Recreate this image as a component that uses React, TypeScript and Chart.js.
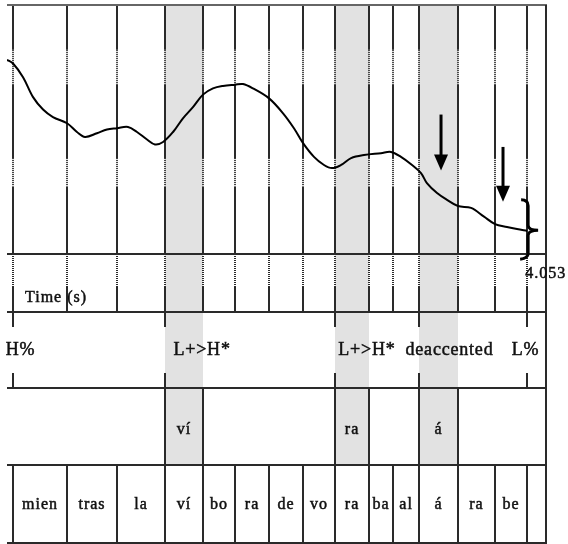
import { useEffect, useRef } from 'react';
import { Chart, registerables } from 'chart.js';

Chart.register(...registerables);

// Pitch track (time in seconds, F0 in Hz)
const pitchTimes = [
  0.0, 0.047, 0.125, 0.203, 0.281, 0.358, 0.468, 0.545, 0.608, 0.701, 0.779, 0.857, 0.943,
  1.013, 1.091, 1.153, 1.216, 1.294, 1.371, 1.449, 1.527, 1.605, 1.683, 1.777, 1.839, 1.917,
  2.042, 2.151, 2.236, 2.307, 2.392, 2.47, 2.532, 2.603, 2.681, 2.782, 2.914, 2.992, 3.07,
  3.156, 3.226, 3.272, 3.351, 3.429, 3.514, 3.616, 3.717, 3.803, 3.896, 3.974, 4.053,
];
const pitchHz = [
  236, 233, 222, 206, 196, 190, 185, 178, 174, 177, 180, 181, 182,
  178, 172, 168, 170, 178, 189, 198, 208, 213, 215, 216, 216.5, 213,
  205, 193, 181, 169, 158, 151.5, 149, 151.5, 157, 159.5, 161, 162, 158,
  151.5, 145, 137, 129, 123.5, 118.5, 117, 110, 104, 101.7, 100, 98.5,
];

// Interval boundaries shared by the word tier
const boundaryTimes = [
  0.047, 0.468, 0.857, 1.231, 1.527, 1.777, 2.042, 2.307, 2.556, 2.821, 3.008, 3.211, 3.514,
  3.803, 4.053,
];
const wordLabels = ['mien', 'tras', 'la', 'ví', 'bo', 'ra', 'de', 'vo', 'ra', 'ba', 'al', 'á', 'ra', 'be'];

// Stressed syllables (shaded)
const stressStarts = [1.231, 2.556, 3.211];
const stressEnds = [1.527, 2.821, 3.514];
const stressLabels = ['ví', 'ra', 'á'];

// Tone tier (point tier)
const tonePointTimes = [0.047, 1.231, 2.556, 3.211, 4.053];
const toneLabels = ['H%', 'L+>H*', 'L+>H*', 'deaccented', 'L%'];
const toneLabelTimes = [0.105, 1.52, 2.805, 3.448, 4.04];

const timeMin = 0;
const timeMax = 4.2;
const hzMin = 80;
const hzMax = 280;
const endTimeLabel = '4.053';
const timeAxisTitle = 'Time (s)';

// Downward arrows and end brace annotations
const arrowTimes = [3.382, 3.865];
const arrowTopHz = [192, 166];
const arrowTipHz = [147, 122];
const braceTime = 4.053;
const braceTopHz = 123.5;
const braceMidHz = 99;
const braceBottomHz = 76.5;

const LINE = '#2a2a2a';
const TEXT = '#111';
const SERIF = '"Liberation Serif", "Times New Roman", serif';

function rowsOf(a: { top: number; bottom: number }) {
  const time = a.bottom + 58;
  const tone = time + 76;
  const syll = tone + 77;
  const word = syll + 78;
  return { time, tone, syll, word };
}

function vline(ctx: CanvasRenderingContext2D, x: number, y0: number, y1: number, dotted = false) {
  ctx.beginPath();
  ctx.setLineDash(dotted ? [1, 1] : []);
  ctx.moveTo(x, y0);
  ctx.lineTo(x, y1);
  ctx.stroke();
  ctx.setLineDash([]);
}

function hline(ctx: CanvasRenderingContext2D, x0: number, x1: number, y: number) {
  ctx.beginPath();
  ctx.moveTo(x0, y);
  ctx.lineTo(x1, y);
  ctx.stroke();
}

// text with a hairline outline so the serif glyphs read a little heavier
function label(ctx: CanvasRenderingContext2D, s: string, x: number, y: number) {
  ctx.fillText(s, x, y);
  ctx.strokeText(s, x, y);
}

const tierPlugin = {
  id: 'textgridTiers',
  beforeDatasetsDraw(chart: any) {
    const { ctx, chartArea: a, scales } = chart;
    const xs = scales.x;
    const rows = rowsOf(a);
    const h = a.bottom - a.top;
    ctx.save();

    // shaded stressed syllables
    ctx.fillStyle = '#e2e2e2';
    stressStarts.forEach((s, i) => {
      const x0 = Math.round(xs.getPixelForValue(s));
      const x1 = Math.round(xs.getPixelForValue(stressEnds[i]));
      ctx.fillRect(x0, a.top, x1 - x0, rows.syll - a.top);
    });

    ctx.strokeStyle = LINE;
    ctx.lineWidth = 2;
    const cuts = [0, 0.18, 0.32, 0.615, 0.73, 1];
    boundaryTimes.forEach((t) => {
      const px = Math.round(xs.getPixelForValue(t));
      for (let k = 0; k < cuts.length - 1; k++) {
        vline(ctx, px, a.top + cuts[k] * h, a.top + cuts[k + 1] * h, k % 2 === 1);
      }
      // time row: dotted then solid
      vline(ctx, px, a.bottom, a.bottom + 33, true);
      vline(ctx, px, a.bottom + 33, rows.time);
      // word tier
      vline(ctx, px, rows.syll, rows.word);
    });

    // tone tier point ticks
    tonePointTimes.forEach((t) => {
      const px = Math.round(xs.getPixelForValue(t));
      vline(ctx, px, rows.time, rows.time + 15);
      vline(ctx, px, rows.tone - 15, rows.tone);
    });

    // syllable tier boundaries
    [...stressStarts, ...stressEnds].forEach((t) => {
      const px = Math.round(xs.getPixelForValue(t));
      vline(ctx, px, rows.tone, rows.syll);
    });
    ctx.restore();
  },
  afterDatasetsDraw(chart: any) {
    const { ctx, chartArea: a, scales } = chart;
    const xs = scales.x;
    const ys = scales.y;
    const rows = rowsOf(a);
    ctx.save();

    // frame and tier separators
    ctx.lineWidth = 2;
    ctx.strokeStyle = '#666';
    hline(ctx, a.left, a.right + 1, a.top);
    ctx.strokeStyle = LINE;
    [a.bottom, rows.time, rows.tone, rows.syll, rows.word].forEach((y) =>
      hline(ctx, a.left, a.right + 1, y)
    );
    vline(ctx, a.right, a.top, rows.word + 1);

    // arrows
    ctx.fillStyle = '#000';
    ctx.strokeStyle = '#000';
    arrowTimes.forEach((t, i) => {
      const px = xs.getPixelForValue(t);
      const yTop = ys.getPixelForValue(arrowTopHz[i]);
      const yTip = ys.getPixelForValue(arrowTipHz[i]);
      ctx.lineWidth = 3;
      ctx.beginPath();
      ctx.moveTo(px, yTop);
      ctx.lineTo(px, yTip - 12);
      ctx.stroke();
      ctx.beginPath();
      ctx.moveTo(px - 7, yTip - 16);
      ctx.lineTo(px + 7, yTip - 16);
      ctx.lineTo(px, yTip);
      ctx.closePath();
      ctx.fill();
    });

    // closing brace
    const bx = xs.getPixelForValue(braceTime) + 1;
    const bTop = ys.getPixelForValue(braceTopHz);
    const bMid = ys.getPixelForValue(braceMidHz);
    const bBot = ys.getPixelForValue(braceBottomHz);
    ctx.lineWidth = 3;
    ctx.beginPath();
    ctx.moveTo(bx - 7, bTop);
    ctx.quadraticCurveTo(bx, bTop, bx, bTop + 6);
    ctx.lineTo(bx, bMid - 5);
    ctx.quadraticCurveTo(bx, bMid, bx + 10, bMid);
    ctx.quadraticCurveTo(bx, bMid, bx, bMid + 5);
    ctx.lineTo(bx, bBot - 5);
    ctx.quadraticCurveTo(bx, bBot, bx - 8, bBot + 1);
    ctx.stroke();

    // texts
    ctx.fillStyle = TEXT;
    ctx.strokeStyle = TEXT;
    ctx.lineWidth = 0.5;
    ctx.textBaseline = 'middle';

    ctx.font = `16px ${SERIF}`;
    (ctx as any).letterSpacing = '1px';
    ctx.textAlign = 'left';
    label(ctx, timeAxisTitle, a.left + 18, a.bottom + 44);
    label(ctx, endTimeLabel, xs.getPixelForValue(braceTime) - 2, a.bottom + 20);

    ctx.textAlign = 'center';
    const syllY = (rows.tone + rows.syll) / 2 + 3;
    stressLabels.forEach((lab, i) => {
      const cx = (xs.getPixelForValue(stressStarts[i]) + xs.getPixelForValue(stressEnds[i])) / 2;
      label(ctx, lab, cx, syllY);
    });

    const wordY = (rows.syll + rows.word) / 2 + 1;
    wordLabels.forEach((lab, i) => {
      const cx = (xs.getPixelForValue(boundaryTimes[i]) + xs.getPixelForValue(boundaryTimes[i + 1])) / 2;
      label(ctx, lab, cx, wordY);
    });

    ctx.font = `18px ${SERIF}`;
    (ctx as any).letterSpacing = '0.8px';
    const toneY = (rows.time + rows.tone) / 2;
    toneLabels.forEach((lab, i) => {
      label(ctx, lab, xs.getPixelForValue(toneLabelTimes[i]), toneY);
    });

    ctx.restore();
  },
};

export default function App() {
  const canvasRef = useRef<HTMLCanvasElement | null>(null);

  useEffect(() => {
    if (!canvasRef.current) return;
    const chart = new Chart(canvasRef.current, {
      type: 'line',
      data: {
        datasets: [
          {
            data: pitchTimes.map((t, i) => ({ x: t, y: pitchHz[i] })),
            borderColor: '#000',
            borderWidth: 2,
            pointRadius: 0,
            tension: 0.35,
            fill: false,
          },
        ],
      },
      options: {
        animation: false,
        responsive: false,
        maintainAspectRatio: false,
        layout: { padding: { left: 7, top: 5, right: 22, bottom: 290 } },
        scales: {
          x: { type: 'linear', min: timeMin, max: timeMax, display: false },
          y: { type: 'linear', min: hzMin, max: hzMax, display: false },
        },
        plugins: { legend: { display: false }, tooltip: { enabled: false } },
      },
      plugins: [tierPlugin],
    });
    return () => chart.destroy();
  }, []);

  return (
    <div style={{ position: 'absolute', left: 0, top: 0, width: 568, height: 544, background: '#fff' }}>
      <canvas ref={canvasRef} width={568} height={544} />
    </div>
  );
}
